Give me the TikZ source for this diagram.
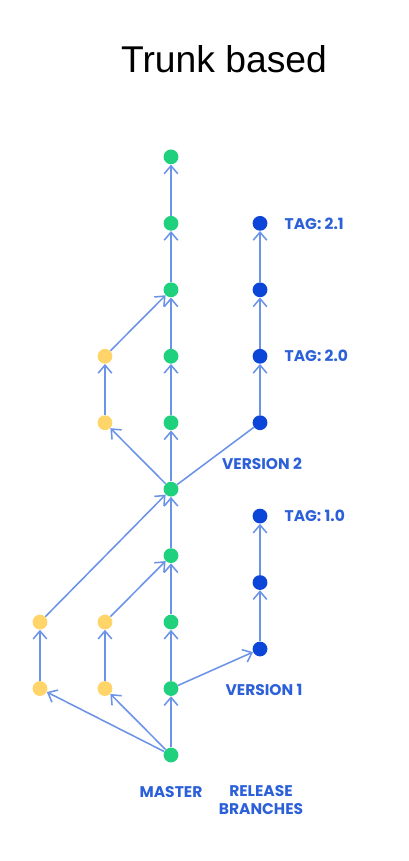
\documentclass[tikz,border=0pt]{standalone}
\usepackage{fontspec}
\setmainfont{Liberation Sans}
\newfontfamily\labelfont{Poppins}
\usepackage{xcolor}
\definecolor{mint}{HTML}{1FD17C}
\definecolor{sand}{HTML}{FFD468}
\definecolor{cobalt}{HTML}{0B46D8}
\definecolor{wire}{HTML}{6B93E8}
\definecolor{tagblue}{HTML}{2C60D8}
\usetikzlibrary{positioning,arrows.meta,backgrounds}
\tikzset{
  >={Straight Barb[length=2mm,width=3.4mm]},
  dot/.style={circle,minimum size=3.7mm,inner sep=0pt},
  gdot/.style={dot,fill=mint},
  ydot/.style={dot,fill=sand},
  bdot/.style={dot,fill=cobalt},
  flow/.style={->,draw=wire,line width=1.1pt},
  link/.style={draw=wire,line width=1.1pt},
  lbl/.style={font=\labelfont\bfseries\fontsize{11}{12.6}\selectfont,text=tagblue,align=center},
}
\begin{document}
\begin{tikzpicture}[x=0.025cm,y=-0.025cm,node distance=16.61mm,on grid]
  \useasboundingbox (0,0) rectangle (408,861);
  \node[font=\fontsize{26.5}{30}\selectfont] (title) at (224,59) {Trunk based};
  % master
  \node[gdot] (m0) at (171,755) {};
  \node[gdot,above=of m0] (m1) {};
  \node[gdot,above=of m1] (m2) {};
  \node[gdot,above=of m2] (m3) {};
  \node[gdot,above=of m3] (m4) {};
  \node[gdot,above=of m4] (m5) {};
  \node[gdot,above=of m5] (m6) {};
  \node[gdot,above=of m6] (m7) {};
  \node[gdot,above=of m7] (m8) {};
  \node[gdot,above=of m8] (m9) {};
  % feature branches
  \node[ydot,left=32.75mm of m1] (fa1) {};
  \node[ydot,above=of fa1] (fa2) {};
  \node[ydot,left=16.5mm of m1] (fb1) {};
  \node[ydot,above=of fb1] (fb2) {};
  \node[ydot,left=16.5mm of m5] (fc1) {};
  \node[ydot,above=of fc1] (fc2) {};
  % release branches
  \node[bdot] (ra1) at (260,649) {};
  \node[bdot,above=of ra1] (ra2) {};
  \node[bdot,above=of ra2,label={[lbl,label distance=3mm]right:{TAG: 1.0}}] (ra3) {};
  \node[bdot,right=22.25mm of m5] (rb1) {};
  \node[bdot,above=of rb1,label={[lbl,label distance=3mm]right:{TAG: 2.0}}] (rb2) {};
  \node[bdot,above=of rb2] (rb3) {};
  \node[bdot,above=of rb3,label={[lbl,label distance=3mm]right:{TAG: 2.1}}] (rb4) {};
  \node[lbl] (v1) at (264,690) {VERSION 1};
  \node[lbl] (v2) at (262,464) {VERSION 2};
  \node[lbl] (master) at (171,792) {MASTER};
  \node[lbl,inner sep=0pt] (rel) at (261,800) {RELEASE\\BRANCHES};
  \begin{scope}[on background layer]
    \foreach \i [count=\j] in {0,...,8}
      \draw[flow] (m\i) -- (m\j);
    \draw[flow] (m0) -- (fa1);
    \draw[flow] (m0) -- (fb1);
    \draw[flow] (fa1) -- (fa2);
    \draw[flow] (fb1) -- (fb2);
    \draw[flow] (fa2) -- (m4);
    \draw[flow] (fb2) -- (m3);
    \draw[flow] (m1) -- (ra1);
    \draw[flow] (ra1) -- (ra2);
    \draw[flow] (ra2) -- (ra3);
    \draw[flow] (m4) -- (fc1);
    \draw[flow] (fc1) -- (fc2);
    \draw[flow] (fc2) -- (m7);
    \draw[link] (m4) -- (rb1);
    \draw[flow] (rb1) -- (rb2);
    \draw[flow] (rb2) -- (rb3);
    \draw[flow] (rb3) -- (rb4);
  \end{scope}
\end{tikzpicture}
\end{document}
